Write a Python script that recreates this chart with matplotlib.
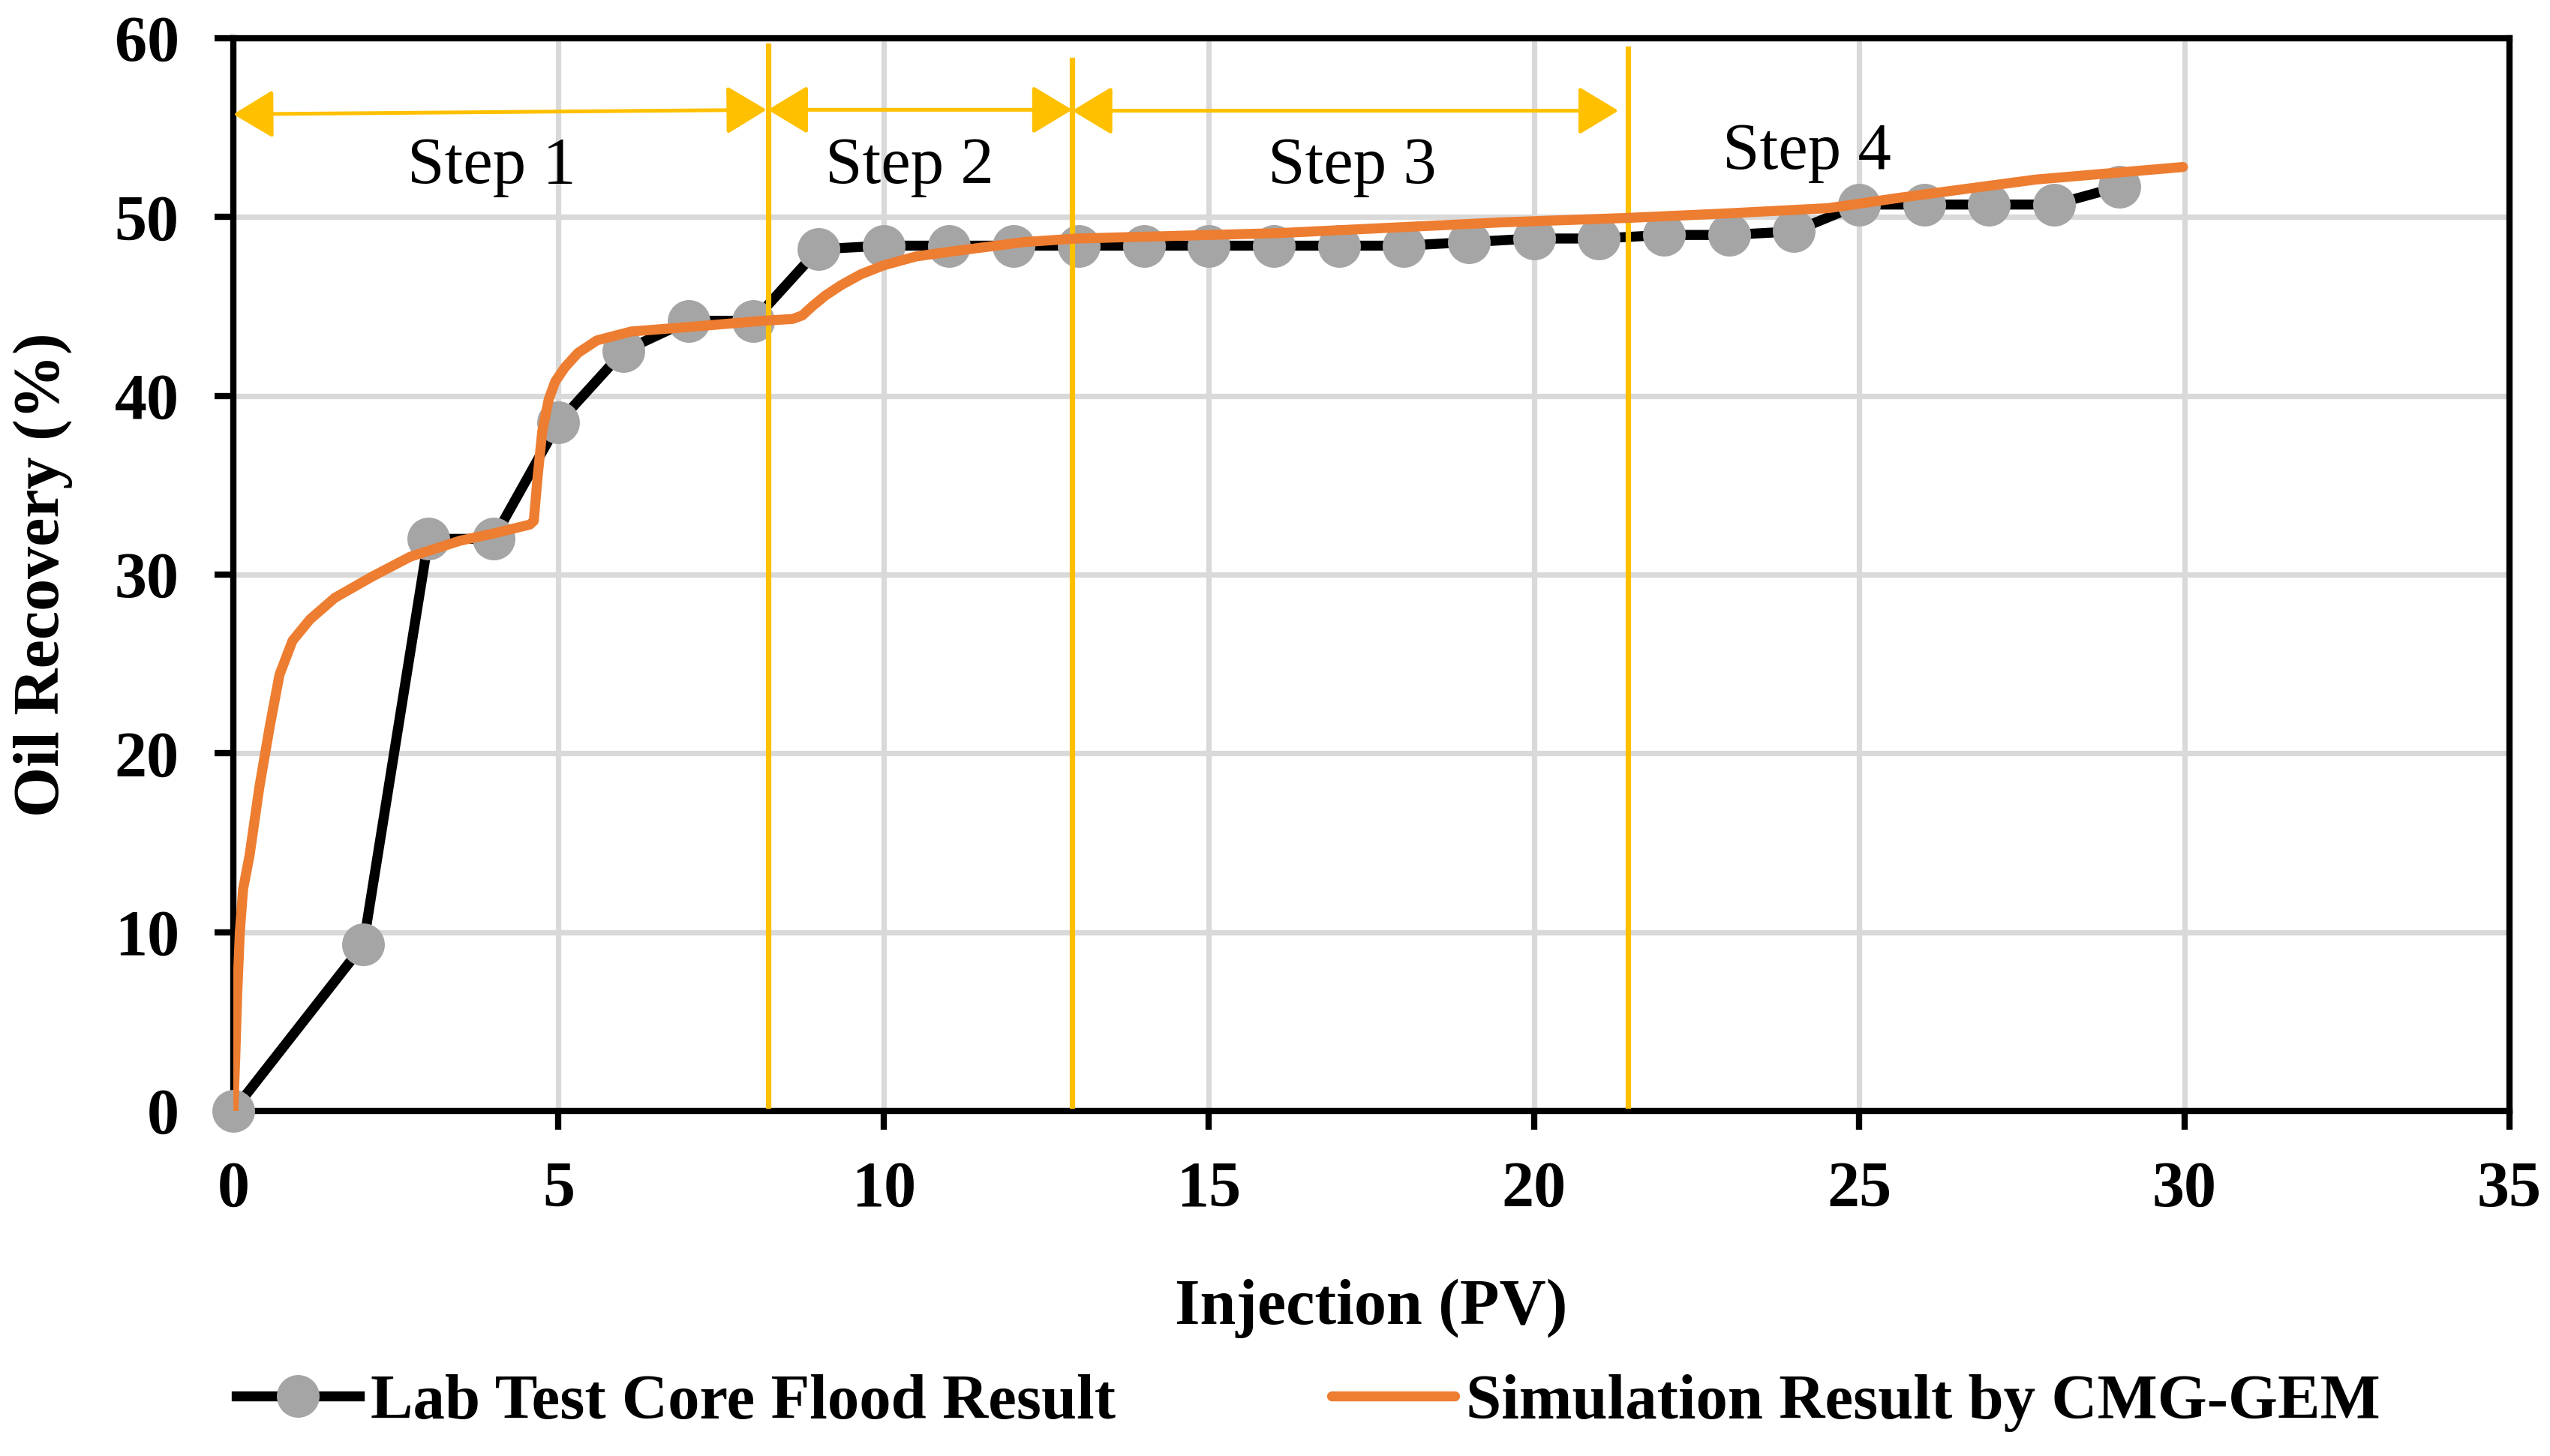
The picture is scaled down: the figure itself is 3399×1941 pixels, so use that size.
import matplotlib
matplotlib.use('Agg')
import matplotlib.pyplot as plt
from matplotlib.patches import FancyArrowPatch

# lab core flood data
lab_x = [0, 2, 3, 4, 5, 6, 7, 8, 9, 10, 11, 12, 13, 14, 15, 16, 17, 18, 19,
         20, 21, 22, 23, 24, 25, 26, 27, 28, 29]
lab_y = [0, 9.3, 32.0, 32.0, 38.5, 42.5, 44.2, 44.2, 48.2, 48.4, 48.4, 48.4,
         48.4, 48.4, 48.4, 48.4, 48.4, 48.4, 48.6, 48.8, 48.8, 49.0, 49.0,
         49.2, 50.7, 50.7, 50.7, 50.7, 51.7]

# CMG-GEM simulation curve
sim_x = [0, 0.03, 0.06, 0.10, 0.15, 0.25, 0.40, 0.56, 0.71, 0.91, 1.18, 1.56,
         2.14, 2.72, 3.49, 4.00, 4.56, 4.62, 4.68, 4.75, 4.85, 4.95, 5.10,
         5.30, 5.59, 6.12, 7.0, 8.15, 8.60, 8.75, 8.90, 9.10, 9.35, 9.65,
         10.0, 10.5, 11.10, 12.15, 12.97, 16.06, 19.48, 21.42, 22.94, 24.53,
         25.66, 27.72, 29.98]
sim_y = [0, 3.0, 6.5, 10.0, 12.4, 14.3, 18.1, 21.5, 24.4, 26.3, 27.5, 28.7,
         29.9, 31.0, 31.9, 32.3, 32.8, 33.0, 35.5, 38.0, 39.8, 40.8, 41.6,
         42.4, 43.1, 43.6, 43.85, 44.2, 44.3, 44.5, 45.0, 45.6, 46.2, 46.8,
         47.3, 47.8, 48.1, 48.6, 48.8, 49.1, 49.7, 49.95, 50.2, 50.5, 51.1,
         52.1, 52.8]

# step boundaries and labels
step_bounds = [8.22, 12.9, 21.45]
step_arrows = [(0, 55.75, 8.2, 56.0), (8.22, 56.0, 12.9, 56.0),
               (12.9, 55.95, 21.3, 55.95)]
step_labels = ['Step 1', 'Step 2', 'Step 3', 'Step 4']
step_label_x = [3.97, 10.4, 17.2, 24.2]
step_label_y = [52.8, 52.8, 52.8, 53.6]

gold = '#FFC000'
orange = '#ED7D31'
grey = '#A5A5A5'

plt.rcParams['font.family'] = ['Liberation Serif', 'DejaVu Serif']

fig = plt.figure(figsize=(16.995, 9.705), dpi=200)
ax = fig.add_axes([0.0915, 0.237, 0.8926, 0.7367])

ax.plot(lab_x, lab_y, color='black', lw=4.8, marker='o', markersize=19.5,
        markerfacecolor=grey, markeredgecolor=grey, clip_on=False, zorder=3,
        label='Lab Test Core Flood Result')
ax.plot(sim_x, sim_y, color=orange, lw=4.8, zorder=5,
        solid_joinstyle='round', solid_capstyle='round',
        label='Simulation Result by CMG-GEM')

for xb, top in zip(step_bounds, [59.6, 58.8, 59.4]):
    ax.plot([xb, xb], [top, 0.3], color=gold, lw=2.6, zorder=4)

for x0, y0, x1, y1 in step_arrows:
    arr = FancyArrowPatch((x0, y0), (x1, y1),
                          arrowstyle='<|-|>,head_length=0.83,head_width=0.5',
                          mutation_scale=20, color=gold, lw=1.8,
                          shrinkA=0, shrinkB=0, zorder=4)
    ax.add_patch(arr)

for lab, tx, ty in zip(step_labels, step_label_x, step_label_y):
    ax.text(tx, ty, lab, fontsize=32, ha='center', va='center', zorder=6)

ax.set_xlim(0, 35)
ax.set_ylim(0, 60)
ax.set_xticks(range(0, 36, 5))
ax.set_yticks(range(0, 61, 10))
ax.grid(True, color='#D9D9D9', lw=2.6, zorder=0)
ax.set_axisbelow(True)
for sp in ax.spines.values():
    sp.set_linewidth(3)
    sp.set_color('black')
ax.tick_params(axis='both', direction='out', length=9, width=3,
               labelsize=31)
ax.tick_params(axis='y', pad=17)
ax.tick_params(axis='x', pad=15)
for t in ax.get_xticklabels() + ax.get_yticklabels():
    t.set_fontweight('bold')

ax.set_xlabel('Injection (PV)', fontsize=31, fontweight='bold', labelpad=28)
ax.set_ylabel('Oil Recovery (%)', fontsize=31, fontweight='bold', labelpad=20)

fig.legend(loc='center', bbox_to_anchor=(0.513, 0.0365), ncol=2, frameon=False,
           prop={'size': 30.5, 'weight': 'bold'}, handlelength=1.94,
           handletextpad=0.17, columnspacing=3.4, borderpad=0)

fig.savefig('out.png', dpi=200)
